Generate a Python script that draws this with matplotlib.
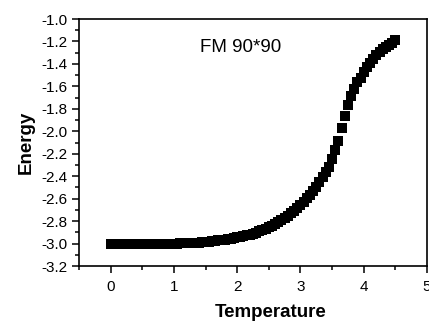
import matplotlib
matplotlib.use("Agg")
import matplotlib.pyplot as plt
from matplotlib.ticker import MultipleLocator, FormatStrFormatter

plt.rcParams['font.family'] = ['Liberation Sans', 'DejaVu Sans']

temperature = [
    0.00, 0.05, 0.10, 0.15, 0.20, 0.25, 0.30, 0.35, 0.40, 0.45,
    0.50, 0.55, 0.60, 0.65, 0.70, 0.75, 0.80, 0.85, 0.90, 0.95,
    1.00, 1.05, 1.10, 1.15, 1.20, 1.25, 1.30, 1.35, 1.40, 1.45,
    1.50, 1.55, 1.60, 1.65, 1.70, 1.75, 1.80, 1.85, 1.90, 1.95,
    2.00, 2.05, 2.10, 2.15, 2.20, 2.25, 2.30, 2.35, 2.40, 2.45,
    2.50, 2.55, 2.60, 2.65, 2.70, 2.75, 2.80, 2.85, 2.90, 2.95,
    3.00, 3.05, 3.10, 3.15, 3.20, 3.25, 3.30, 3.35, 3.40, 3.45,
    3.50, 3.55, 3.60, 3.65, 3.70, 3.75, 3.80, 3.85, 3.90, 3.95,
    4.00, 4.05, 4.10, 4.15, 4.20, 4.25, 4.30, 4.35, 4.40, 4.45,
    4.50,
]
energy = [
    -3.000, -3.000, -3.000, -3.000, -3.000, -3.000, -3.000, -3.000, -3.000, -3.000,
    -3.000, -3.000, -3.000, -3.000, -3.000, -3.000, -3.000, -3.000, -3.000, -3.000,
    -3.000, -3.000, -2.999, -2.999, -2.999, -2.998, -2.997, -2.995, -2.993, -2.990,
    -2.987, -2.984, -2.980, -2.976, -2.972, -2.968, -2.964, -2.960, -2.956, -2.951,
    -2.946, -2.940, -2.934, -2.927, -2.920, -2.911, -2.902, -2.892, -2.880, -2.868,
    -2.855, -2.841, -2.826, -2.810, -2.792, -2.773, -2.752, -2.730, -2.707, -2.682,
    -2.656, -2.628, -2.598, -2.566, -2.532, -2.495, -2.455, -2.411, -2.365, -2.315,
    -2.250, -2.170, -2.085, -1.975, -1.865, -1.770, -1.690, -1.620, -1.565, -1.525,
    -1.470, -1.430, -1.390, -1.355, -1.320, -1.295, -1.270, -1.250, -1.230, -1.210,
    -1.190,
]
annotation = "FM 90*90"
x_label = "Temperature"
y_label = "Energy"

fig = plt.figure(figsize=(4.29, 3.25), dpi=100)
ax = fig.add_axes([0.1841, 0.1815, 0.8112, 0.760])

ax.plot(temperature, energy, linestyle='none', marker='s', markersize=7.4,
        color='black', markeredgewidth=0)

ax.set_xlim(-0.5, 5)
ax.set_ylim(-3.2, -1.0)
ax.xaxis.set_major_locator(MultipleLocator(1))
ax.xaxis.set_minor_locator(MultipleLocator(0.5))
ax.yaxis.set_major_locator(MultipleLocator(0.2))
ax.yaxis.set_minor_locator(MultipleLocator(0.1))
ax.yaxis.set_major_formatter(FormatStrFormatter('%.1f'))
ax.xaxis.set_major_formatter(FormatStrFormatter('%d'))

ax.tick_params(which='major', direction='out', length=5, width=1.1, labelsize=11, pad=3)
ax.tick_params(which='minor', direction='out', length=3, width=1.1)
ax.tick_params(axis='x', which='major', pad=5)
for s in ax.spines.values():
    s.set_linewidth(1.2)

ax.set_xlabel(x_label, fontsize=13.5, fontweight='bold')
ax.set_ylabel(y_label, fontsize=13.5, fontweight='bold')
ax.xaxis.set_label_coords(0.55, -0.155)
ax.yaxis.set_label_coords(-0.128, 0.5)

ax.text(0.348, 0.883, annotation, transform=ax.transAxes, fontsize=13.5,
        ha='left', va='center')

fig.savefig("out.png", dpi=100)
